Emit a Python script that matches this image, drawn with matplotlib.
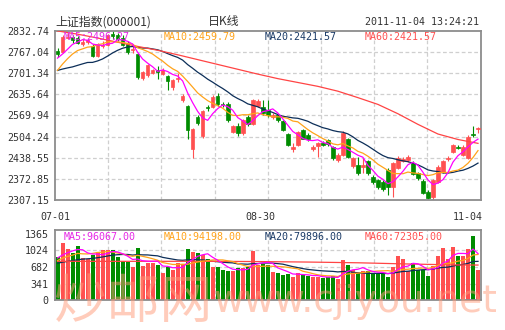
import numpy as np
import pandas as pd
import matplotlib
matplotlib.use("Agg")
import matplotlib.pyplot as plt
import matplotlib.transforms as mtransforms

# ---------------- data ----------------
opens = [2770, 2767, 2810, 2812, 2810, 2792, 2798, 2786, 2755, 2785,
         2788, 2822, 2818, 2810, 2793, 2772, 2761, 2686, 2695, 2702,
         2710, 2698, 2692, 2657, 2683, 2618, 2599, 2467, 2564, 2506,
         2596, 2597, 2630, 2604, 2605, 2519, 2537, 2514, 2566, 2543,
         2599, 2595, 2586, 2566, 2571, 2553, 2512, 2464, 2478, 2524,
         2509, 2466, 2475, 2483, 2493, 2473, 2431, 2447, 2495, 2413,
         2416, 2411, 2428, 2380, 2369, 2364, 2400, 2349, 2408, 2429,
         2431, 2423, 2390, 2367, 2333, 2318, 2364, 2395, 2433, 2457,
         2473, 2447, 2436, 2512, 2527]
closes = [2759, 2813, 2813, 2805, 2796, 2798, 2803, 2755, 2790, 2788,
          2820, 2816, 2808, 2789, 2766, 2777, 2689, 2703, 2725, 2710,
          2706, 2711, 2678, 2680, 2685, 2630, 2524, 2527, 2545, 2583,
          2593, 2628, 2605, 2602, 2557, 2537, 2514, 2555, 2543, 2618,
          2615, 2576, 2571, 2570, 2555, 2524, 2478, 2473, 2519, 2498,
          2495, 2473, 2485, 2478, 2480, 2436, 2447, 2516, 2442, 2436,
          2390, 2416, 2390, 2364, 2346, 2340, 2349, 2421, 2438, 2433,
          2442, 2388, 2374, 2330, 2314, 2369, 2411, 2428, 2438, 2478,
          2469, 2471, 2504, 2508, 2529.4]
highs = [2780, 2818, 2826, 2818, 2815, 2806, 2810, 2790, 2795, 2800,
         2822, 2832.74, 2825, 2818, 2800, 2785, 2765, 2708, 2730, 2715,
         2723, 2716, 2695, 2683, 2700, 2635, 2603, 2530, 2570, 2588,
         2602, 2634, 2638, 2612, 2610, 2540, 2545, 2560, 2570, 2622,
         2620, 2617, 2617, 2578, 2575, 2556, 2515, 2483, 2522, 2528,
         2515, 2478, 2487, 2490, 2498, 2476, 2452, 2520, 2500, 2440,
         2442, 2436, 2432, 2385, 2373, 2368, 2405, 2425, 2443, 2440,
         2448, 2428, 2395, 2372, 2338, 2373, 2415, 2432, 2443, 2482,
         2478, 2478, 2510, 2537, 2535]
lows = [2752, 2762, 2806, 2795, 2790, 2785, 2790, 2750, 2750, 2778,
        2785, 2806, 2800, 2785, 2760, 2765, 2684, 2680, 2690, 2698,
        2682, 2695, 2649, 2650, 2675, 2610, 2498, 2437, 2540, 2500,
        2582, 2592, 2600, 2595, 2550, 2515, 2506, 2510, 2538, 2540,
        2595, 2570, 2566, 2560, 2550, 2520, 2475, 2457, 2475, 2495,
        2490, 2460, 2440, 2474, 2476, 2430, 2426, 2444, 2438, 2408,
        2385, 2390, 2386, 2358, 2340, 2336, 2323, 2318, 2402, 2425,
        2426, 2384, 2370, 2326, 2310, 2307.15, 2360, 2390, 2428, 2453,
        2464, 2443, 2433, 2503, 2514]
volumes = [880, 1180, 1060, 980, 1120, 860, 855, 935, 990, 1030,
           1030, 1035, 885, 810, 780, 685, 1075, 710, 765, 765,
           715, 560, 675, 625, 770, 740, 1055, 990, 965, 930,
           840, 690, 690, 620, 590, 590, 655, 655, 690, 1020,
           725, 740, 720, 580, 560, 525, 545, 480, 560, 520,
           500, 470, 470, 450, 480, 500, 430, 830, 730, 630,
           560, 600, 600, 560, 560, 535, 470, 680, 900, 850,
           600, 765, 630, 630, 500, 700, 900, 1080, 850, 1087,
           900, 900, 1050, 1333, 620]
# closes / volumes of the 19 sessions before 07-01 (for the moving averages)
prior_closes = [2728, 2742, 2741, 2702, 2705, 2716, 2750, 2701, 2664, 2642,
                2621, 2645, 2659, 2688, 2746, 2749, 2740, 2728, 2762]
prior_volumes = [720, 760, 700, 680, 650, 700, 780, 690, 720, 640,
                 700, 680, 720, 760, 950, 880, 820, 790, 980]
# MA60 lines
ma60_idx = [0, 4, 8, 12, 16, 20, 24, 28, 32, 36, 40, 44, 48, 52, 56, 60, 64, 68, 72, 76, 80, 84]
ma60_val = [2832, 2822, 2810, 2797, 2784, 2772, 2758, 2743, 2728, 2713, 2698, 2684,
            2672, 2660, 2645, 2625, 2604, 2575, 2542, 2512, 2495, 2483]
vma60_idx = [0, 10, 20, 30, 40, 50, 60, 70, 80, 84]
vma60_val = [800, 800, 800, 800, 795, 785, 770, 745, 725, 723]

price_ticks = [2307.15, 2372.85, 2438.55, 2504.24, 2569.94, 2635.64, 2701.34, 2767.04, 2832.74]
price_tick_labels = ["2307.15", "2372.85", "2438.55", "2504.24", "2569.94",
                     "2635.64", "2701.34", "2767.04", "2832.74"]
vol_ticks = [0, 341, 682, 1024, 1365]
vol_tick_labels = ["0", "341", "682", "1024", "1365"]
date_idx = [0, 42, 84]
date_labels = ["07-01", "08-30", "11-04"]
price_legend = ["MA5:2496.27", "MA10:2459.79", "MA20:2421.57", "MA60:2421.57"]
vol_legend = ["MA5:96067.00", "MA10:94198.00", "MA20:79896.00", "MA60:72305.00"]

# ---------------- style ----------------
RED = "#ff5050"
GREEN = "#008c00"
C_MA5 = "#ff00ff"
C_MA10 = "#ffa31a"
C_MA20 = "#0c2e58"
C_MA60 = "#ff4444"
LEG_COLORS = ["#e628e6", "#ffa31a", "#1a3a66", "#ff5050"]
MONO = "DejaVu Sans Mono"
CJK = ["Noto Sans CJK SC", "DejaVu Sans"]
TXT = "#333333"
FS = 7.2

W, H = 505, 330
fig = plt.figure(figsize=(W / 100, H / 100), dpi=100)
fig.patch.set_facecolor("white")


def px_axes(l, t, r, b):
    return fig.add_axes([l / W, 1 - b / H, (r - l) / W, (b - t) / H])


axp = px_axes(55, 30.7, 480.5, 200)
axv = px_axes(55, 230, 480.5, 300)


def sma(prior, vals, n):
    s = pd.Series(list(prior) + list(vals), dtype=float).rolling(n).mean().to_numpy()
    return s[len(prior):]


o = np.array(opens, float)
c = np.array(closes, float)
h = np.array(highs, float)
l = np.array(lows, float)
v = np.array(volumes, float)
n = len(c)
x = np.arange(n)
cols = np.where(c >= o, RED, GREEN)

# ---- price panel ----
axp.set_xlim(-0.5, n - 0.5)
axp.set_ylim(price_ticks[0], price_ticks[-1])
for k in range(1, 8):
    xg = -0.5 + k * n / 8
    axp.axvline(xg, color="#cfcfcf", lw=0.9, ls=(0, (3, 2)), zorder=0)
    axv.axvline(xg, color="#cfcfcf", lw=0.9, ls=(0, (3, 2)), zorder=0)
for yt in price_ticks[1:-1]:
    axp.axhline(yt, color="#cfcfcf", lw=0.9, ls=(0, (3, 2)), zorder=0)

axp.vlines(x, l, h, colors=cols, lw=0.8, zorder=2)
axp.bar(x, np.abs(c - o), bottom=np.minimum(o, c), width=0.72, color=cols,
        edgecolor=cols, linewidth=0.5, zorder=3)

axp.plot(x, sma(prior_closes, closes, 20), color=C_MA20, lw=0.9, zorder=4)
axp.plot(ma60_idx, ma60_val, color=C_MA60, lw=0.9, zorder=4)
axp.plot(x, sma(prior_closes, closes, 10), color=C_MA10, lw=0.9, zorder=4)
axp.plot(x, sma(prior_closes, closes, 5), color=C_MA5, lw=0.9, zorder=5)

axp.set_yticks(price_ticks)
axp.set_yticklabels(price_tick_labels)
axp.set_xticks([])

# ---- volume panel ----
axv.set_xlim(-0.5, n - 0.5)
axv.set_ylim(0, 1448)
for yt in vol_ticks[1:-1]:
    axv.axhline(yt, color="#cfcfcf", lw=0.9, ls=(0, (3, 2)), zorder=0)
axv.bar(x, v, width=0.8, color=cols, linewidth=0, zorder=2)
axv.plot(x, sma(prior_volumes, volumes, 20), color=C_MA20, lw=0.9, zorder=4)
axv.plot(vma60_idx, vma60_val, color=C_MA60, lw=0.9, zorder=4)
axv.plot(x, sma(prior_volumes, volumes, 10), color=C_MA10, lw=0.9, zorder=4)
axv.plot(x, sma(prior_volumes, volumes, 5), color=C_MA5, lw=0.9, zorder=5)
axv.set_yticks(vol_ticks)
axv.set_yticklabels(vol_tick_labels)
axv.set_xticks([])

for ax in (axp, axv):
    ax.set_facecolor("white")
    for s in ax.spines.values():
        s.set_color("#8c8c8c")
        s.set_linewidth(1.3)
    ax.tick_params(axis="y", length=0, pad=4.5, labelsize=FS, labelcolor=TXT)
    for lab in ax.get_yticklabels():
        lab.set_fontfamily(MONO)

# legends
leg_x = [0.0212, 0.2562, 0.4935, 0.7286]
for xt, txt, col in zip(leg_x, price_legend, LEG_COLORS):
    axp.text(xt, 0.9646, txt, transform=axp.transAxes, color=col, fontsize=FS,
             family=MONO, va="center", ha="left", zorder=10)
for xt, txt, col in zip(leg_x, vol_legend, LEG_COLORS):
    axv.text(xt, 0.904, txt, transform=axv.transAxes, color=col, fontsize=FS,
             family=MONO, va="center", ha="left", zorder=10)

# date labels
trans = mtransforms.blended_transform_factory(axp.transData, axp.transAxes)
date_shift = [-0.5, -1.5, 1.0]
date_ha = ["center", "center", "right"]
for idx, lab, sh, ha in zip(date_idx, date_labels, date_shift, date_ha):
    axp.text(idx + sh, -0.0986, lab, transform=trans, fontsize=FS, family=MONO,
             color=TXT, ha=ha, va="center")

# header
fig.text(55 / W, 1 - 21.7 / H, "上证指数(000001)", family=CJK, fontsize=8.6,
         color=TXT, va="center", ha="left")
fig.text(208 / W, 1 - 21.7 / H, "日K线", family=CJK, fontsize=8.6,
         color=TXT, va="center", ha="left")
fig.text(479 / W, 1 - 21.7 / H, "2011-11-04 13:24:21", family=MONO, fontsize=FS,
         color=TXT, va="center", ha="right")

# watermark
fig.text(54 / W, 12 / H, "炒邮网", family=CJK, fontsize=38, color="#ff9a78",
         alpha=0.5, va="baseline", ha="left", zorder=20)
fig.text(213 / W, 18 / H, "www.cjiyou.net", family="DejaVu Sans",
         fontsize=27, color="#ff9a78", alpha=0.5, va="baseline", ha="left", zorder=20)

fig.savefig("out.png", dpi=100)
